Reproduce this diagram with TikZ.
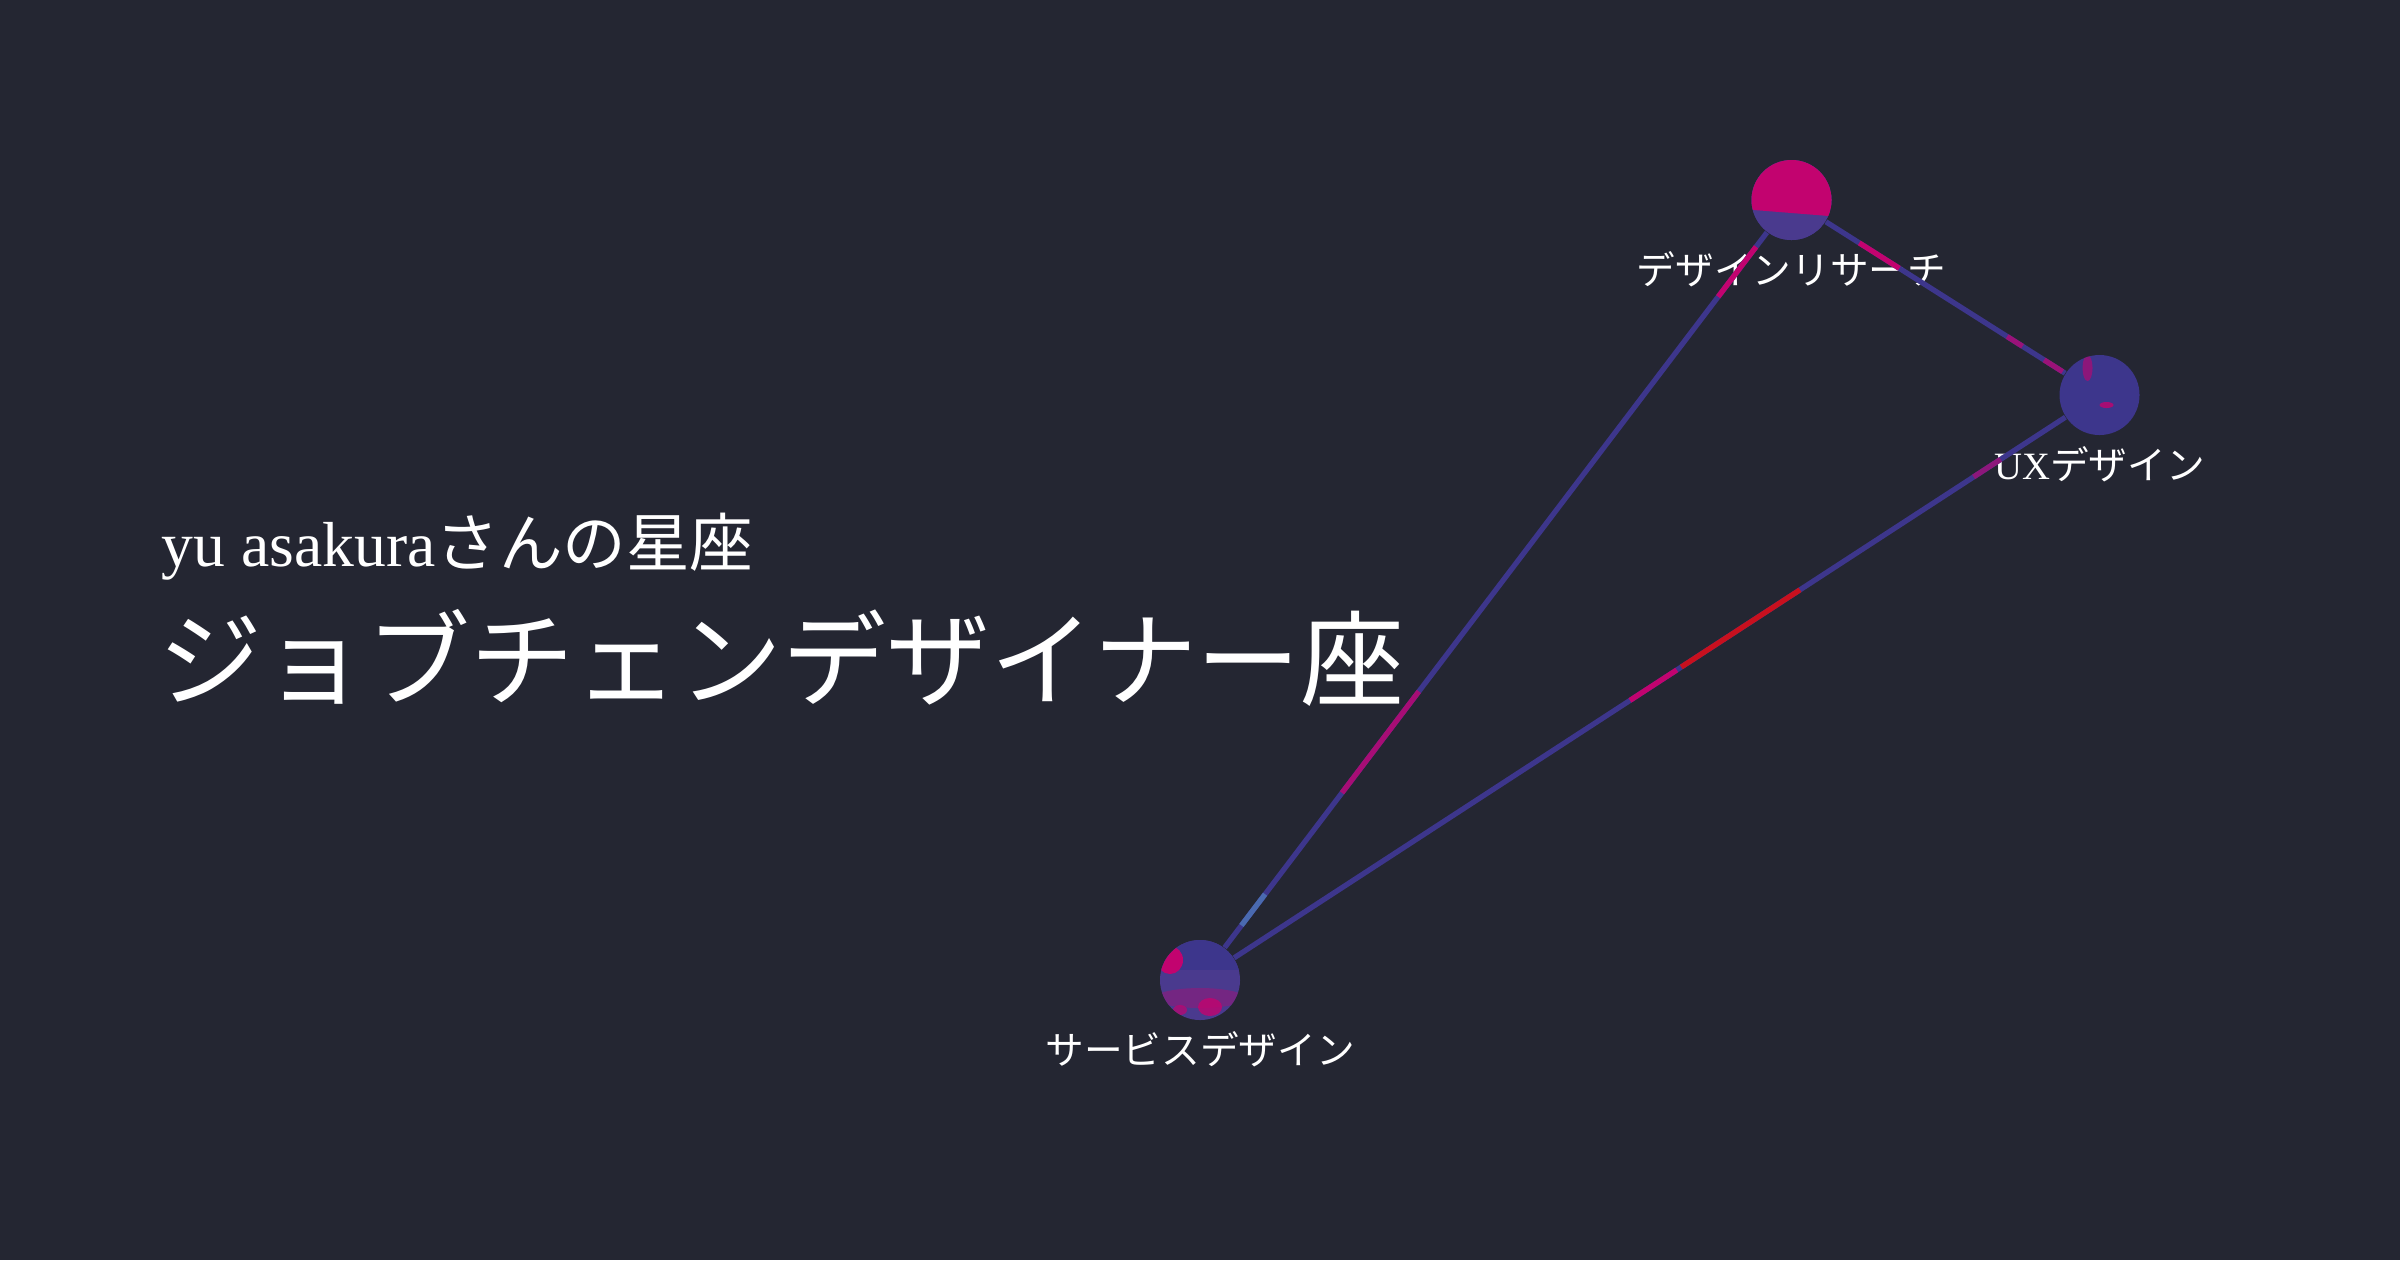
\documentclass[tikz,border=0pt]{standalone}
\usepackage{fontspec}
\setmainfont{Liberation Serif}
\newfontfamily\jp{Noto Sans CJK JP}
\usetikzlibrary{positioning,calc}
\definecolor{night}{HTML}{242632}
\definecolor{indigo}{HTML}{3D368C}
\definecolor{violet}{HTML}{4A3A8E}
\definecolor{rose}{HTML}{C2036F}
\definecolor{ember}{HTML}{C8101E}
\definecolor{sky}{HTML}{4A6AB0}
\begin{document}
\begin{tikzpicture}[
  orb/.style={circle, fill=indigo, minimum size=0.8cm, inner sep=0},
  tag/.style={text=white, inner sep=0, font=\fontsize{11}{13}\selectfont},
  link/.style={draw=indigo, line width=1.5pt},
  glow/.style={line width=1.5pt, line cap=butt}
]
\fill[night] (0,0) rectangle (24,-12.6);
% title
\node[anchor=base west, inner sep=0, text=white, font=\fontsize{18.1}{21}\selectfont] (who) at (1.61,-5.66) {yu asakura{\jp さんの星座}};
\node[anchor=base west, inner sep=0, text=white, font=\fontsize{29.6}{34}\selectfont\jp] (title) at (1.58,-6.98) {ジョブチェンデザイナー座};
% stars
\node[orb] (r) at (17.915,-2.0) {};
\node[orb] (u) at (20.995,-3.95) {};
\node[orb, fill=violet] (s) at (12.0,-9.8) {};
\node[tag, below=0.1cm of r] (rl) {\jp デザインリサーチ};
\node[tag, below=0.1cm of u] (ul) {UX{\jp デザイン}};
\node[tag, below=0.1cm of s] (sl) {\jp サービスデザイン};
% links
\draw[link] (s) -- (r);
\draw[link] (s) -- (u);
\draw[link] (r) -- (u);
\draw[glow, rose!80!indigo] ($(s)!0.24!(r)$) -- ($(s)!0.37!(r)$);
\draw[glow, rose] ($(s)!0.876!(r)$) -- ($(s)!0.94!(r)$);
\draw[glow, sky] ($(s)!0.07!(r)$) -- ($(s)!0.11!(r)$);
\draw[glow, rose] ($(s)!0.478!(u)$) -- ($(s)!0.53!(u)$);
\draw[glow, ember] ($(s)!0.535!(u)$) -- ($(s)!0.667!(u)$);
\draw[glow, rose!60!indigo] ($(s)!0.86!(u)$) -- ($(s)!0.89!(u)$);
\draw[glow, rose] ($(r)!0.22!(u)$) -- ($(r)!0.35!(u)$);
\draw[glow, rose!70!indigo] ($(r)!0.70!(u)$) -- ($(r)!0.75!(u)$);
\draw[glow, rose!70!indigo] ($(r)!0.82!(u)$) -- ($(r)!0.88!(u)$);
% star surfaces
\begin{scope}
\clip (r) circle (0.4);
\fill[violet] (r) circle (0.4);
\fill[rose] ($(r)+(-0.5,0.5)$) -- ($(r)+(0.5,0.5)$) -- ($(r)+(0.5,-0.17)$) -- ($(r)+(-0.5,-0.09)$) -- cycle;
\end{scope}
\begin{scope}
\clip (u) circle (0.4);
\fill[rose, opacity=0.6] ($(u)+(-0.12,0.27)$) ellipse (0.05 and 0.13);
\fill[rose, opacity=0.8] ($(u)+(0.07,-0.1)$) ellipse (0.07 and 0.03);
\end{scope}
\begin{scope}
\clip (s) circle (0.4);
\fill[indigo] ($(s)+(-0.5,0.1)$) rectangle ($(s)+(0.5,0.5)$);
\fill[rose!70!violet, opacity=0.5] ($(s)+(0,-0.18)$) ellipse (0.45 and 0.1);
\fill[rose] ($(s)+(-0.3,0.2)$) ellipse (0.13 and 0.14);
\fill[rose, opacity=0.8] ($(s)+(0.1,-0.27)$) ellipse (0.12 and 0.09);
\fill[rose, opacity=0.7] ($(s)+(-0.2,-0.3)$) ellipse (0.07 and 0.05);
\end{scope}
\end{tikzpicture}
\end{document}
